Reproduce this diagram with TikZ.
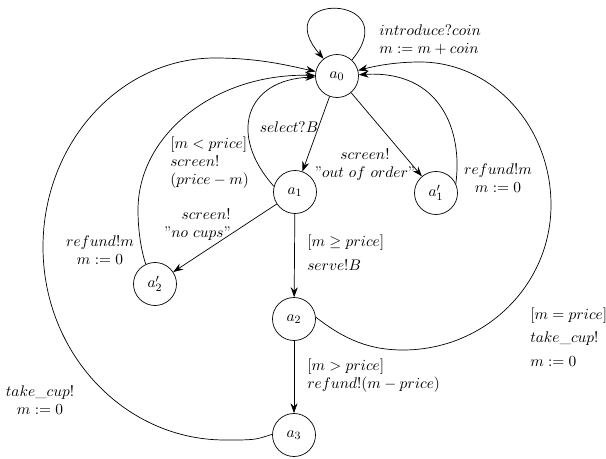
\documentclass[tikz,border=0pt]{standalone}
\usetikzlibrary{arrows.meta}
\begin{document}
\begin{tikzpicture}[x=0.025cm,y=-0.025cm,
  state/.style={circle,draw,line width=0.5pt,minimum size=1.075cm,inner sep=0pt,font=\fontsize{11}{12.8}\selectfont},
  lbl/.style={inner sep=0pt,font=\fontsize{11}{12.8}\selectfont},
  conn/.style={line width=0.5pt,-{Stealth[length=7pt,width=5pt]}}]
\path[use as bounding box] (0,0) rectangle (606,459);

% states
\node[state] (a0)  at (337,76)  {$a_0$};
\node[state] (a1)  at (295,192) {$a_1$};
\node[state] (a1p) at (436,193) {$a'_1$};
\node[state] (a2p) at (155,284) {$a'_2$};
\node[state] (a2)  at (294,319) {$a_2$};
\node[state] (a3)  at (294,435) {$a_3$};

% self loop
\draw[conn] (a0.47) .. controls (407,-7) and (266,-9) .. (a0.128);
% straight transitions
\draw[conn] (a0) -- (a1);
\draw[conn] (a0) -- (a1p);
\draw[conn] (a1) -- (a2p);
\draw[conn] (a1) -- (a2);
\draw[conn] (a2) -- (a3);
% back transitions
\draw[conn] (a1.165) .. controls (228,135) and (245,80) .. (a0);
\draw[conn] (a1p.25) .. controls (463,130) and (440,70) .. (a0);
\draw[conn] (a2p.115) .. controls (141,250) and (138,230) .. (138,210)
  .. controls (138,134) and (216,73) .. (a0);
\draw[conn] (a2.5) .. controls (345,340) and (370,350) .. (403,350)
  .. controls (485,350) and (551,285) .. (551,205)
  .. controls (551,126) and (492,62) .. (420,62)
  .. controls (395,62) and (375,66) .. (a0);
\draw[conn] (a3.178) .. controls (255,440) .. (225,440)
  .. controls (125,440) and (43,354) .. (43,247)
  .. controls (43,143) and (120,58) .. (215,58)
  .. controls (260,58) and (290,66) .. (a0);

% labels
\node[lbl,anchor=west,align=left] (l0) at (379,40) {$introduce?coin$\\$m := m + coin$};
\node[lbl] (l1) at (289,127) {$select?B$};
\node[lbl,anchor=west,align=left] (l2) at (170,163) {$[m < price]$\\$screen!$\\$(price - m)$};
\node[lbl,align=center] (l3) at (365,165) {$screen!$\\''$out\ of\ order$''};
\node[lbl,align=center] (l4) at (498,178) {$refund!m$\\$m := 0$};
\node[lbl,anchor=east,align=right] (l5) at (231,225) {$screen!$\\''$no\ cups$''};
\node[lbl,align=center] (l6) at (100,250) {$refund!m$\\$m := 0$};
\node[lbl,anchor=west,align=left] (l7) at (307,253) {$[m \geq price]$\\[4pt]$serve!B$};
\node[lbl,anchor=west,align=left] (l8) at (530,337) {$[m = price]$\\[4pt]$take\_cup!$\\[4pt]$m := 0$};
\node[lbl,anchor=west,align=left] (l9) at (307,376) {$[m > price]$\\$refund!(m - price)$};
\node[lbl,align=center] (l10) at (40,400) {$take\_cup!$\\$m := 0$};
\end{tikzpicture}
\end{document}
